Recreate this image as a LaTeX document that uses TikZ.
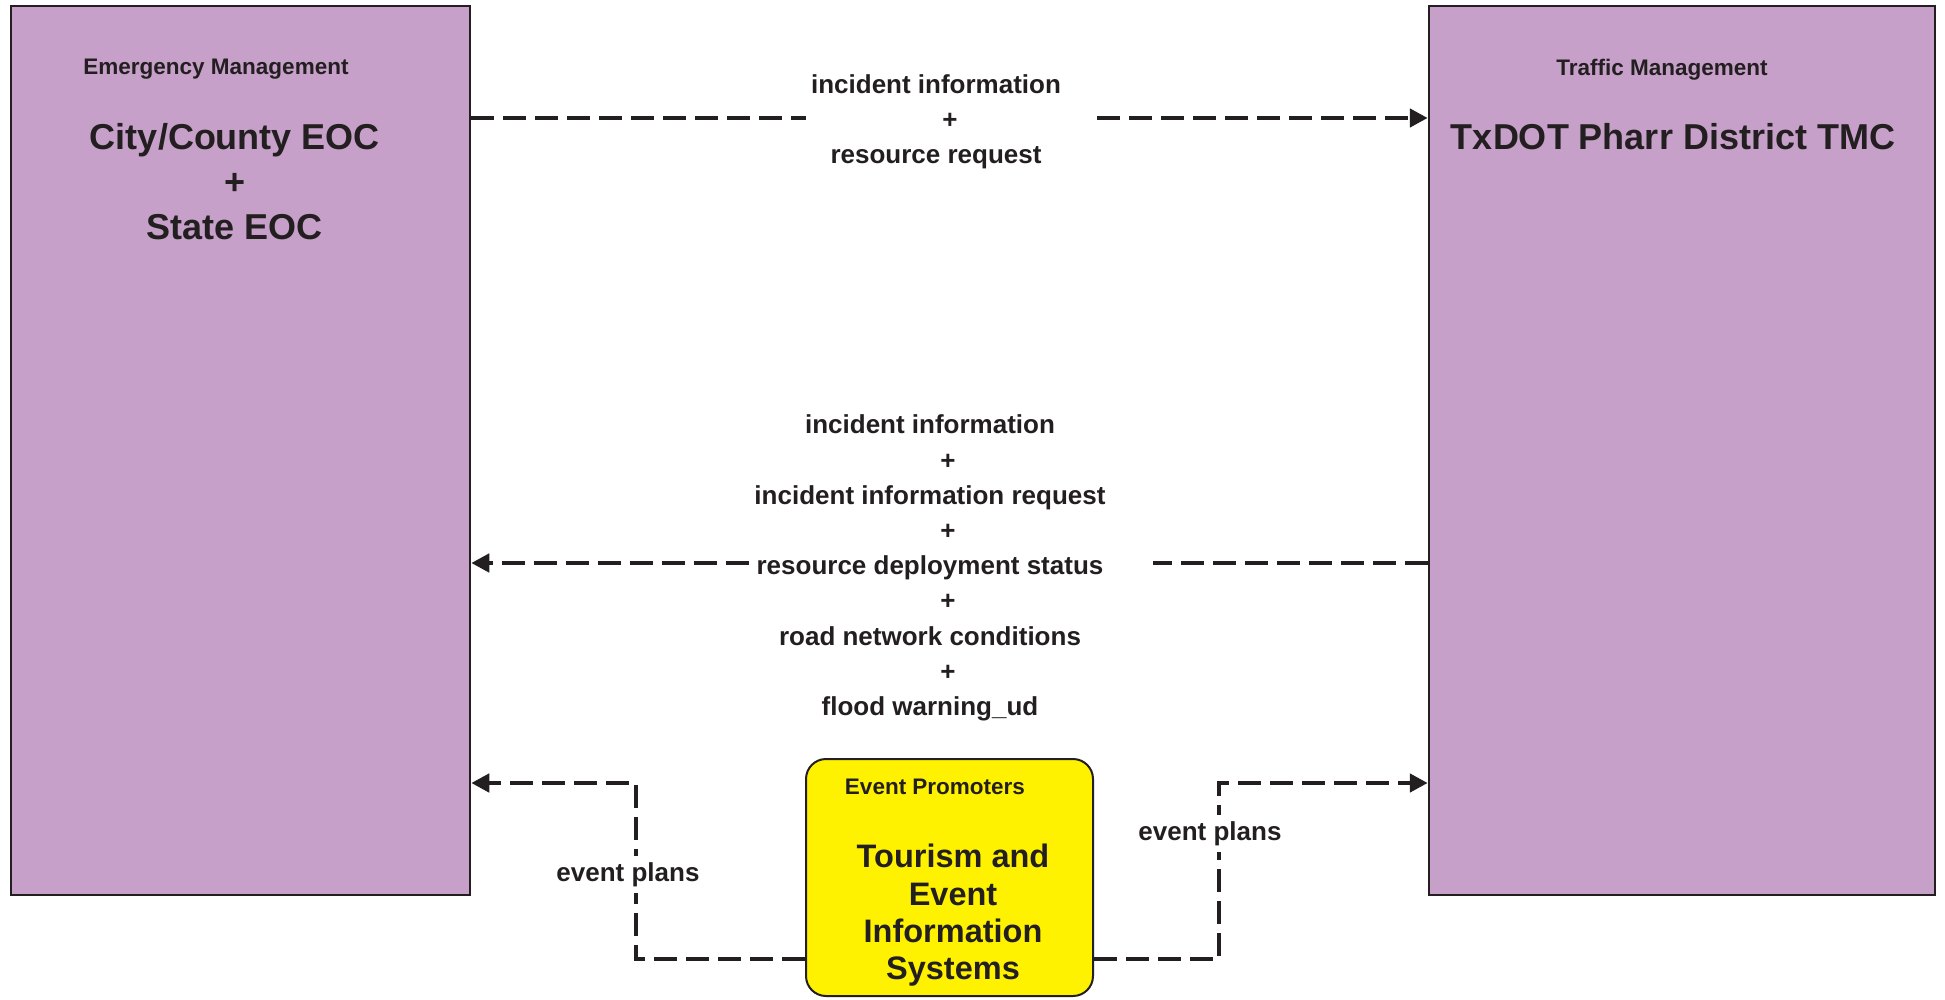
\documentclass[tikz,border=0pt]{standalone}
\usepackage{fontspec}
\setmainfont{Liberation Sans}
\usetikzlibrary{arrows.meta,calc}
\definecolor{boxpurple}{RGB}{198,160,201}
\definecolor{boxyellow}{RGB}{255,242,0}
\definecolor{ink}{RGB}{35,31,32}
\begin{document}
\begin{tikzpicture}[x=1pt,y=-1pt,
  sysbox/.style={draw=ink,line width=2.5pt,fill=boxpurple,rectangle,inner sep=0pt},
  eventbox/.style={draw=ink,line width=2pt,fill=boxyellow,rectangle,rounded corners=20pt,inner sep=0pt},
  cattxt/.style={text=ink,font=\fontsize{22.5}{27}\selectfont\bfseries,inner sep=0pt},
  nametxt/.style={text=ink,font=\fontsize{36}{45}\selectfont\bfseries,align=center,inner sep=0pt},
  evtxt/.style={text=ink,font=\fontsize{32.5}{37.3}\selectfont\bfseries,align=center,inner sep=0pt},
  lbl/.style={text=ink,font=\fontsize{26}{35.2}\selectfont\bfseries,align=center,inner sep=0pt},
  flow/.style={draw=ink,line width=4.5pt,dash pattern=on 23pt off 9pt},
  tip/.style={-{Triangle[length=18pt,width=18pt]}}
]
\useasboundingbox[fill=white] (0,0) rectangle (1945,1000);

% boxes
\node[sysbox,minimum width=459pt,minimum height=889pt] (L) at (240.5,450.5) {};
\node[sysbox,minimum width=506pt,minimum height=889pt] (R) at (1682,450.5) {};
\node[eventbox,minimum width=287pt,minimum height=237pt] (Y) at (949.5,877.5) {};

% box texts
\node[cattxt] (Lcat) at (216,69.5) {Emergency Management};
\node[nametxt] (Lname) at (235,182) {City/County EOC\\+\\State EOC};
\node[cattxt] (Rcat) at (1662,69.5) {Traffic Management};
\node[nametxt] (Rname) at (1673,137) {TxDOT Pharr District TMC};
\node[cattxt] (Ycat) at (935,787) {Event Promoters};
\node[evtxt] (Yname) at (953,915.5) {Tourism and\\Event\\Information\\Systems};

% top flow
\coordinate (t1) at (806,118);
\coordinate (t2) at (1097,118);
\draw[flow] (L.east |- t1) -- (t1);
\draw[flow,tip] (t2) -- (R.west |- t2);
\node[lbl] (toplbl) at (936,121.5) {incident information\\\hspace*{28pt}+\\resource request};

% middle flow
\coordinate (m1) at (749,563);
\coordinate (m2) at (1153,563);
\draw[flow] (R.west |- m2) -- (m2);
\draw[flow,tip] (m1) -- (L.east |- m1);
\node[lbl] (midlbl) at (930,568) {incident information\\\hspace*{36pt}+\\incident information request\\\hspace*{36pt}+\\resource deployment status\\\hspace*{36pt}+\\road network conditions\\\hspace*{36pt}+\\flood warning\_ud};

% event plans flows
\coordinate (lowy) at (0,959);
\coordinate (lbend) at (636,783);
\coordinate (rbend) at (1219,783);
\draw[flow,tip] (Y.west |- lowy) -- (lbend |- lowy) -- (lbend) -- (L.east |- lbend);
\draw[flow,tip] (Y.east |- lowy) -- (rbend |- lowy) -- (rbend) -- (R.west |- rbend);
\node[lbl,fill=white,inner sep=6pt] (ep1) at (628,874.5) {event plans};
\node[lbl,fill=white,inner sep=6pt] (ep2) at (1210,833.5) {event plans};
\end{tikzpicture}
\end{document}
